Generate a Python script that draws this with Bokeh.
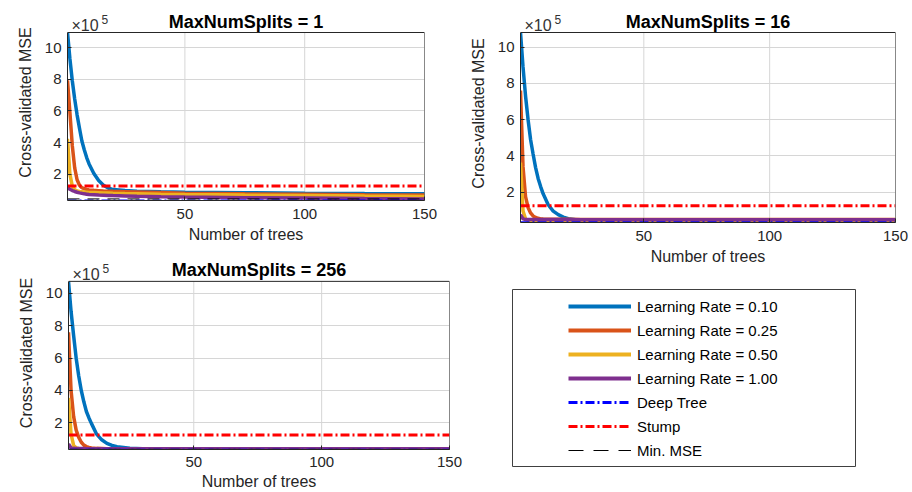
from bokeh.plotting import figure
from bokeh.models import Range1d, FixedTicker, Label, Legend, LegendItem
from bokeh.layouts import row, column
from bokeh.embed import file_html
from bokeh.resources import INLINE

# ---- data (cross-validated MSE in units of 1e5) ----
trees = [1, 2, 3, 4, 5, 6, 7, 8, 9, 10, 12, 14, 16, 18, 20, 25, 30, 40, 50, 75, 100, 125, 150]
learn_rates = [0.10, 0.25, 0.50, 1.00]
max_num_splits = [1, 16, 256]

# MaxNumSplits = 1
mse_s1_lr010 = [10.95, 9.3, 7.9, 6.75, 5.75, 4.9, 4.1, 3.55, 3.05, 2.65, 2.05, 1.6, 1.3, 1.13, 1.03,
                0.97, 0.93, 0.89, 0.86, 0.83, 0.80, 0.78, 0.77]
mse_s1_lr025 = [7.93, 5.9, 3.8, 2.4, 1.65, 1.3, 1.15, 1.08, 1.04, 1.01, 0.98, 0.96, 0.94, 0.93, 0.92,
                0.90, 0.88, 0.84, 0.80, 0.76, 0.73, 0.70, 0.68]
mse_s1_lr050 = [4.24, 2.0, 1.25, 1.02, 0.95, 0.91, 0.89, 0.87, 0.86, 0.85, 0.84, 0.83, 0.82, 0.81, 0.80,
                0.78, 0.77, 0.74, 0.72, 0.68, 0.65, 0.62, 0.60]
mse_s1_lr100 = [1.16, 1.05, 0.97, 0.91, 0.86, 0.82, 0.79, 0.76, 0.74, 0.72, 0.70, 0.68, 0.67, 0.66, 0.65,
                0.63, 0.61, 0.58, 0.56, 0.52, 0.49, 0.46, 0.44]

# MaxNumSplits = 16
mse_s16_lr010 = [10.8, 8.9, 7.3, 6.0, 4.9, 4.1, 3.35, 2.75, 2.3, 1.9, 1.3, 0.95, 0.75, 0.62, 0.53,
                 0.43, 0.39, 0.36, 0.35, 0.33, 0.32, 0.32, 0.32]
mse_s16_lr025 = [7.6, 3.4, 1.75, 1.15, 0.85, 0.68, 0.60, 0.55, 0.52, 0.51, 0.50, 0.50, 0.50, 0.50, 0.50,
                 0.49, 0.49, 0.49, 0.49, 0.48, 0.48, 0.48, 0.48]
mse_s16_lr050 = [3.62, 0.95, 0.52, 0.42, 0.39, 0.38, 0.38, 0.37, 0.37, 0.37, 0.37, 0.36, 0.36, 0.36, 0.36,
                 0.36, 0.36, 0.36, 0.35, 0.35, 0.35, 0.35, 0.35]
mse_s16_lr100 = [0.75, 0.52, 0.49, 0.48, 0.48, 0.48, 0.48, 0.48, 0.48, 0.48, 0.48, 0.48, 0.48, 0.48, 0.48,
                 0.47, 0.47, 0.47, 0.47, 0.47, 0.47, 0.47, 0.47]

# MaxNumSplits = 256
mse_s256_lr010 = [10.75, 8.9, 7.4, 6.0, 4.9, 4.0, 3.3, 2.7, 2.3, 1.95, 1.3, 0.95, 0.73, 0.60, 0.52,
                  0.43, 0.40, 0.38, 0.37, 0.36, 0.36, 0.36, 0.36]
mse_s256_lr025 = [7.6, 4.0, 2.4, 1.55, 1.1, 0.8, 0.62, 0.53, 0.48, 0.45, 0.42, 0.41, 0.40, 0.40, 0.40,
                  0.39, 0.39, 0.39, 0.39, 0.38, 0.38, 0.38, 0.38]
mse_s256_lr050 = [3.55, 1.3, 0.60, 0.45, 0.41, 0.40, 0.39, 0.39, 0.39, 0.38, 0.38, 0.38, 0.38, 0.38, 0.38,
                  0.38, 0.37, 0.37, 0.37, 0.37, 0.37, 0.37, 0.37]
mse_s256_lr100 = [0.70, 0.45, 0.42, 0.41, 0.41, 0.41, 0.41, 0.40, 0.40, 0.40, 0.40, 0.40, 0.40, 0.40, 0.40,
                  0.40, 0.40, 0.40, 0.40, 0.40, 0.40, 0.40, 0.40]

mse_deep = 0.31
mse_stump = 1.25

x_lim = [1, 150]
y_lims = [[0.34, 10.95], [0.32, 10.8], [0.35, 10.75]]
x_ticks = [50, 100, 150]
y_ticks = [2, 4, 6, 8, 10]

curves = [
    [mse_s1_lr010, mse_s1_lr025, mse_s1_lr050, mse_s1_lr100],
    [mse_s16_lr010, mse_s16_lr025, mse_s16_lr050, mse_s16_lr100],
    [mse_s256_lr010, mse_s256_lr025, mse_s256_lr050, mse_s256_lr100],
]

# ---- style ----
FONT = "Liberation Sans"
AX = "#262626"
GRID = "#d6d6d6"
lr_colors = ["#0072BD", "#D95319", "#EDB120", "#7E2F8E"]
CURVE_W = 3.5
DASHDOT = "9 3 2 3"
DASHED = "12 8"


def make_panel(k, width, height, left, right, frame_top, box_top, bottom):
    """One subplot. The frame reaches above the axes box so that the title and
    the axis exponent can sit on the same line just above the box."""
    ymin, ymax = y_lims[k]
    box_h = height - box_top - bottom
    y_end = ymax + (box_top - frame_top) * (ymax - ymin) / box_h

    p = figure(width=width, height=height,
               x_range=Range1d(*x_lim), y_range=Range1d(ymin, y_end),
               output_backend="svg", toolbar_location=None,
               min_border_left=left, min_border_right=right,
               min_border_top=frame_top, min_border_bottom=bottom)

    p.xaxis.ticker = FixedTicker(ticks=x_ticks)
    p.yaxis.ticker = FixedTicker(ticks=y_ticks)
    p.yaxis.bounds = (ymin, ymax)
    p.xaxis.axis_label = "Number of trees"
    p.yaxis.axis_label = "Cross-validated MSE"
    for ax in (p.xaxis, p.yaxis):
        ax.axis_line_color = AX
        ax.major_tick_line_color = AX
        ax.major_tick_in = 4
        ax.major_tick_out = 0
        ax.minor_tick_line_color = None
        ax.major_label_text_font = FONT
        ax.major_label_text_font_size = "15px"
        ax.major_label_text_color = AX
        ax.axis_label_text_font = FONT
        ax.axis_label_text_font_size = "16px"
        ax.axis_label_text_font_style = "normal"
        ax.axis_label_text_color = AX
    p.xaxis.major_label_standoff = 8
    p.xaxis.axis_label_standoff = 4
    p.yaxis.major_label_standoff = 6
    p.yaxis.axis_label_standoff = 8

    p.xgrid.visible = False
    p.ygrid.grid_line_color = GRID
    p.ygrid.grid_line_width = 1
    p.outline_line_color = None
    p.background_fill_color = "white"
    p.border_fill_color = "white"

    # vertical grid lines, limited to the axes box
    n = len(x_ticks)
    p.segment(x0=x_ticks, y0=[ymin] * n, x1=x_ticks, y1=[ymax] * n,
              line_color=GRID, line_width=1)

    for vals, col in zip(curves[k], lr_colors):
        p.line(trees, vals, line_color=col, line_width=CURVE_W)

    min_mse = min(min(v) for v in curves[k])
    p.line(x_lim, [mse_deep, mse_deep], line_color="#0000FF", line_width=3, line_dash=DASHDOT)
    p.line(x_lim, [mse_stump, mse_stump], line_color="#FF0000", line_width=3, line_dash=DASHDOT)
    p.line(x_lim, [min_mse, min_mse], line_color="#000000", line_width=1, line_dash=DASHED)

    # top and right edges of the axes box
    p.segment(x0=[x_lim[0], x_lim[1]], y0=[ymax, ymin], x1=[x_lim[1], x_lim[1]], y1=[ymax, ymax],
              line_color=AX, line_width=1)

    # title and axis exponent
    p.add_layout(Label(x=(x_lim[0] + x_lim[1]) / 2, y=ymax, y_offset=11,
                       text=f"MaxNumSplits = {max_num_splits[k]}",
                       text_align="center", text_baseline="alphabetic",
                       text_font=FONT, text_font_size="18px", text_font_style="bold",
                       text_color="#000000"))
    p.add_layout(Label(x=x_lim[0], y=ymax, x_offset=4, y_offset=7, text="×10",
                       text_baseline="alphabetic",
                       text_font=FONT, text_font_size="16px", text_color="#333333"))
    p.add_layout(Label(x=x_lim[0], y=ymax, x_offset=34, y_offset=13, text="5",
                       text_baseline="alphabetic",
                       text_font=FONT, text_font_size="12px", text_color="#333333"))
    return p


p1 = make_panel(0, 466, 252, 67, 42, 4, 32, 52)
p3 = make_panel(2, 466, 240, 68, 17, 4, 29, 42)
p3.xaxis.major_label_standoff = 7
p3.xaxis.axis_label_standoff = 3
p2 = make_panel(1, 446, 268, 54, 17, 4, 32, 46)

# ---- legend panel ----
nan = float("nan")
pl = figure(width=446, height=224, x_range=Range1d(0, 1), y_range=Range1d(0, 1),
            output_backend="svg", toolbar_location=None,
            x_axis_location=None, y_axis_location=None,
            min_border_left=46, min_border_right=57, min_border_top=21, min_border_bottom=26)
pl.grid.visible = False
pl.outline_line_color = "#404040"
pl.outline_line_width = 1
pl.background_fill_color = "white"
pl.border_fill_color = "white"

items = []
for lr, col in zip(learn_rates, lr_colors):
    r = pl.line([nan, nan], [nan, nan], line_color=col, line_width=4)
    items.append(LegendItem(label=f"Learning Rate = {lr:.2f}", renderers=[r]))
r_deep = pl.line([nan, nan], [nan, nan], line_color="#0000FF", line_width=3, line_dash=DASHDOT)
items.append(LegendItem(label="Deep Tree", renderers=[r_deep]))
r_stump = pl.line([nan, nan], [nan, nan], line_color="#FF0000", line_width=3, line_dash=DASHDOT)
items.append(LegendItem(label="Stump", renderers=[r_stump]))
r_min = pl.line([nan, nan], [nan, nan], line_color="#000000", line_width=1, line_dash="15 10")
items.append(LegendItem(label="Min. MSE", renderers=[r_min]))

legend = Legend(items=items, location=(56, 6), padding=0, margin=0, spacing=4,
                glyph_width=63, glyph_height=20, label_height=20, label_standoff=6,
                border_line_alpha=0, background_fill_alpha=0,
                label_text_font=FONT, label_text_font_size="15px", label_text_color="#000000")
pl.add_layout(legend)

# each figure sits in its own row so that neighbouring borders are not aligned
layout = row(column(row(p1), row(p3)), column(row(p2), row(pl)))

open("out.html", "w").write(file_html(layout, INLINE))
